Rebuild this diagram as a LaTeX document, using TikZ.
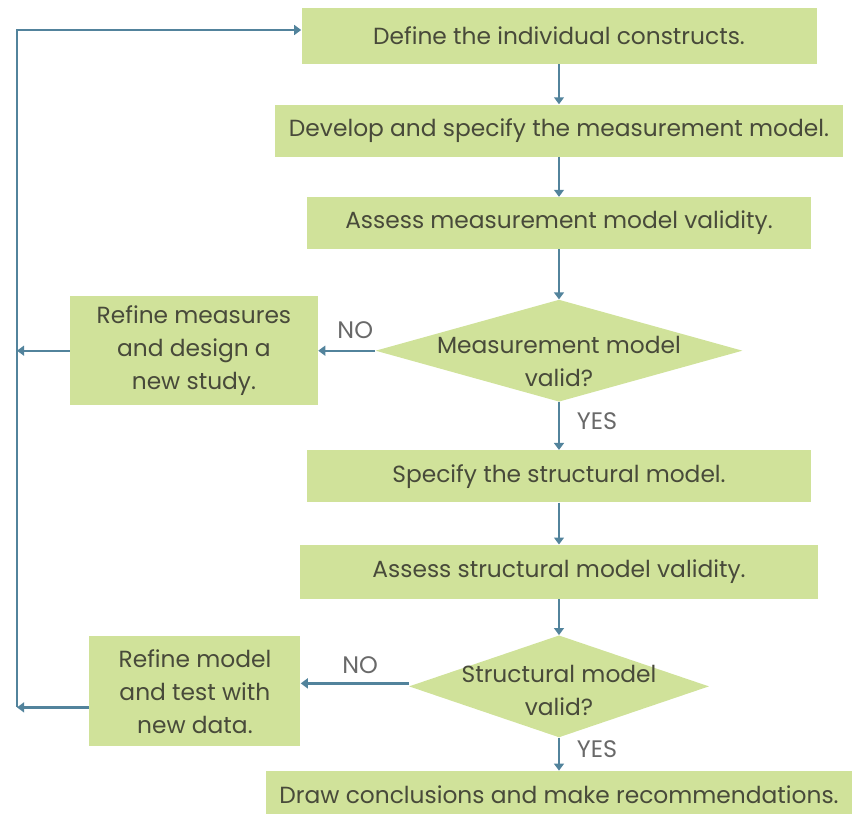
\documentclass[tikz,border=0pt]{standalone}
\usepackage{fontspec}
\setmainfont{Poppins}
\usetikzlibrary{positioning, arrows.meta, shapes.geometric}
\definecolor{boxfill}{RGB}{208,226,154}
\definecolor{flowline}{RGB}{82,131,156}
\definecolor{boxtext}{RGB}{72,74,58}
\definecolor{answertext}{RGB}{105,105,105}
\tikzset{
  stepbox/.style={
    rectangle, fill=boxfill, draw=none, text=boxtext,
    font=\fontsize{16.6}{23.5}\selectfont, align=center, inner sep=2pt
  },
  decision/.style={
    diamond, fill=boxfill, draw=none, inner sep=0pt
  },
  decision text/.style={text=boxtext, font=\fontsize{16.6}{23.5}\selectfont, align=center},
  flow/.style={draw=flowline, line width=1.6pt, -{Triangle[length=5pt,width=7pt]}},
  answer/.style={text=answertext, font=\fontsize{17}{19}\selectfont},
}

\begin{document}
\begin{tikzpicture}
  \useasboundingbox (0,0) rectangle (21.35,-20.35);

  % main column
  \node[stepbox, minimum width=12.875cm, minimum height=1.4cm] (define) at (13.975,-0.9)
    {Define the individual constructs.};
  \node[stepbox, below=1.0cm of define, minimum width=14.2cm, minimum height=1.3cm] (develop)
    {Develop and specify the measurement model.};
  \node[stepbox, below=1.0cm of develop, minimum width=12.6cm, minimum height=1.3cm] (assessM)
    {Assess measurement model validity.};
  \node[decision, below=1.25cm of assessM, minimum width=9.175cm, minimum height=2.55cm,
    label={[decision text, yshift=-0.28cm]center:Measurement model\\valid?}] (validM) {};
  \node[stepbox, below=1.2cm of validM, minimum width=12.6cm, minimum height=1.3cm] (specify)
    {Specify the structural model.};
  \node[stepbox, below=1.05cm of specify, minimum width=12.95cm, minimum height=1.35cm] (assessS)
    {Assess structural model validity.};
  \node[decision, below=0.9cm of assessS, minimum width=7.5cm, minimum height=2.55cm,
    label={[decision text, yshift=-0.1cm]center:Structural model\\valid?}] (validS) {};
  \node[stepbox, below=0.825cm of validS, minimum width=14.65cm, minimum height=1.175cm] (conclude)
    {Draw conclusions and make recommendations.};

  % refine boxes
  \node[stepbox, left=1.425cm of validM, minimum width=6.2cm, minimum height=2.725cm] (refineM)
    {Refine measures\\and design a\\new study.};
  \node[stepbox, left=2.7cm of validS, yshift=-0.125cm, minimum width=5.275cm, minimum height=2.75cm] (refineS)
    {Refine model\\and test with\\new data.};

  % return rail
  \coordinate (railtop) at (0.425,-0.75);
  \coordinate (railbot) at ([yshift=-0.4cm]refineS.west -| railtop);

  \draw[flow] (define) -- (develop);
  \draw[flow] (develop) -- (assessM);
  \draw[flow] (assessM) -- (validM);
  \draw[flow] (validM) -- node[answer, right, pos=0.4, xshift=0.3cm] {YES} (specify);
  \draw[flow] (specify) -- (assessS);
  \draw[flow] (assessS) -- (validS);
  \draw[flow] (validS) -- node[answer, right, pos=0.35, xshift=0.3cm] {YES} (conclude);

  \draw[flow] (validM.west) -- node[answer, above, pos=0.35, yshift=0.15cm] {NO} (validM.west -| refineM.east);
  \draw[flow] ([yshift=0.075cm]validS.west) -- node[answer, above, pos=0.45, yshift=0.1cm] {NO} ([yshift=0.075cm]validS.west -| refineS.east);

  \draw[flow] (refineM.west) -- (refineM.west -| railtop);
  \draw[flow] ([yshift=-0.4cm]refineS.west) -- (railbot);
  \draw[flow] (railbot) -- (railtop) -- (railtop -| define.west);
\end{tikzpicture}
\end{document}
